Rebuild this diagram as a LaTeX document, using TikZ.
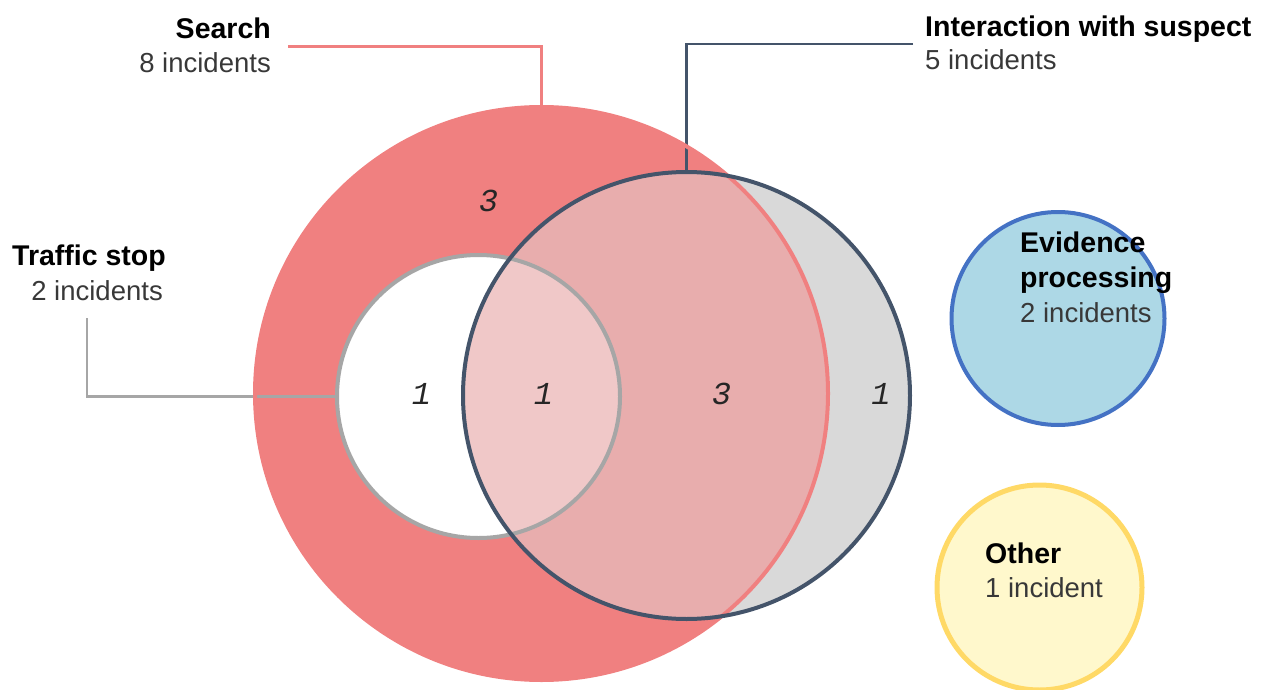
\documentclass[tikz,border=0pt]{standalone}
\usepackage{fontspec}
\setmainfont{Liberation Sans}
\newfontfamily\tallyfont{Liberation Mono}
\usetikzlibrary{calc}
\definecolor{searchred}{HTML}{F08080}
\definecolor{overlapred}{HTML}{E8ADAD}
\definecolor{overlaplight}{HTML}{F0C8C8}
\definecolor{suspectgray}{HTML}{D9D9D9}
\definecolor{suspectnavy}{HTML}{44546A}
\definecolor{trafficgray}{HTML}{A6A6A6}
\definecolor{evidenceblue}{HTML}{ADD8E6}
\definecolor{evidenceedge}{HTML}{4472C4}
\definecolor{otherfill}{HTML}{FFF8CC}
\definecolor{otheredge}{HTML}{FFD966}
\tikzset{
  ring/.style={circle, inner sep=0pt, outer sep=0pt, line width=4pt, minimum size=#1},
  labeltitle/.style={inner sep=0pt, text=black, font=\fontsize{28.5}{30}\selectfont\bfseries},
  labelcount/.style={inner sep=0pt, text=black!78, font=\fontsize{27.5}{30}\selectfont},
  tally/.style={inner sep=0pt, text=black!85, font=\fontsize{32}{34}\selectfont\tallyfont\itshape},
  leaderline/.style={line width=2.5pt}
}
\begin{document}
\begin{tikzpicture}[x=1pt,y=-1pt]
        \useasboundingbox (0,0) rectangle (1266,690);
        \node[ring=573pt, fill=searchred] (search) at (541.5,393.5) {};
        \node[ring=447pt, fill=suspectgray] (suspect) at (686.5,395.5) {};
        \begin{scope}
            \clip (suspect.center) circle (223.5pt);
            \fill[overlapred] (search.center) circle (286.5pt);
        \end{scope}
        \node[ring=283pt, fill=white] (traffic) at (478.5,396.5) {};
        \begin{scope}
            \clip (suspect.center) circle (223.5pt);
            \fill[overlaplight] (traffic.center) circle (141.5pt);
        \end{scope}
        \node[ring=213pt, draw=evidenceedge, fill=evidenceblue] (evidence) at (1058,318.5) {};
        \node[ring=205pt, line width=5pt, draw=otheredge, fill=otherfill] (other) at (1039.5,587.5) {};

        \coordinate (search-end) at (288,46.5);
        \coordinate (suspect-end) at (913,44);
        \coordinate (traffic-end) at (87,318);
        \draw[leaderline, searchred] (search-end) -| (search.north);
        \draw[leaderline, suspectnavy] (suspect-end) -| (suspect.north);
        \draw[leaderline, trafficgray] (traffic-end) |- (traffic.west);

        \draw[line width=4pt, searchred] (search.center) circle (286.5pt);
        \draw[line width=4pt, trafficgray] (traffic.center) circle (141.5pt);
        \draw[line width=4pt, suspectnavy] (suspect.center) circle (223.5pt);

        \node[labeltitle, anchor=base east] (search-title) at (271,39) {Search};
        \node[labelcount, anchor=base east] (search-count) at (271,73) {8 incidents};
        \node[labeltitle, anchor=base west] (suspect-title) at (925,37) {Interaction with suspect};
        \node[labelcount, anchor=base west] (suspect-count) at (925,70) {5 incidents};
        \node[labeltitle, anchor=base west] (traffic-title) at (12,265) {Traffic stop};
        \node[labelcount, anchor=base east] (traffic-count) at (163,300) {2 incidents};
        \node[labeltitle, anchor=base west] (evidence-title) at (1020,252) {Evidence};
        \node[labeltitle, anchor=base west] (evidence-title2) at (1020,287) {processing};
        \node[labelcount, anchor=base west] (evidence-count) at (1020,322) {2 incidents};
        \node[labeltitle, anchor=base west] (other-title) at (985,563) {Other};
        \node[labelcount, anchor=base west] (other-count) at (985,597) {1 incident};

        \node[tally] (search-only) at (488.5,201) {3};
        \node[tally] (traffic-only) at (421.5,394) {1};
        \node[tally] (traffic-suspect) at (543.5,394) {1};
        \node[tally] (search-suspect) at (721.5,394) {3};
        \node[tally] (suspect-only) at (881,394) {1};
    \end{tikzpicture}
\end{document}
